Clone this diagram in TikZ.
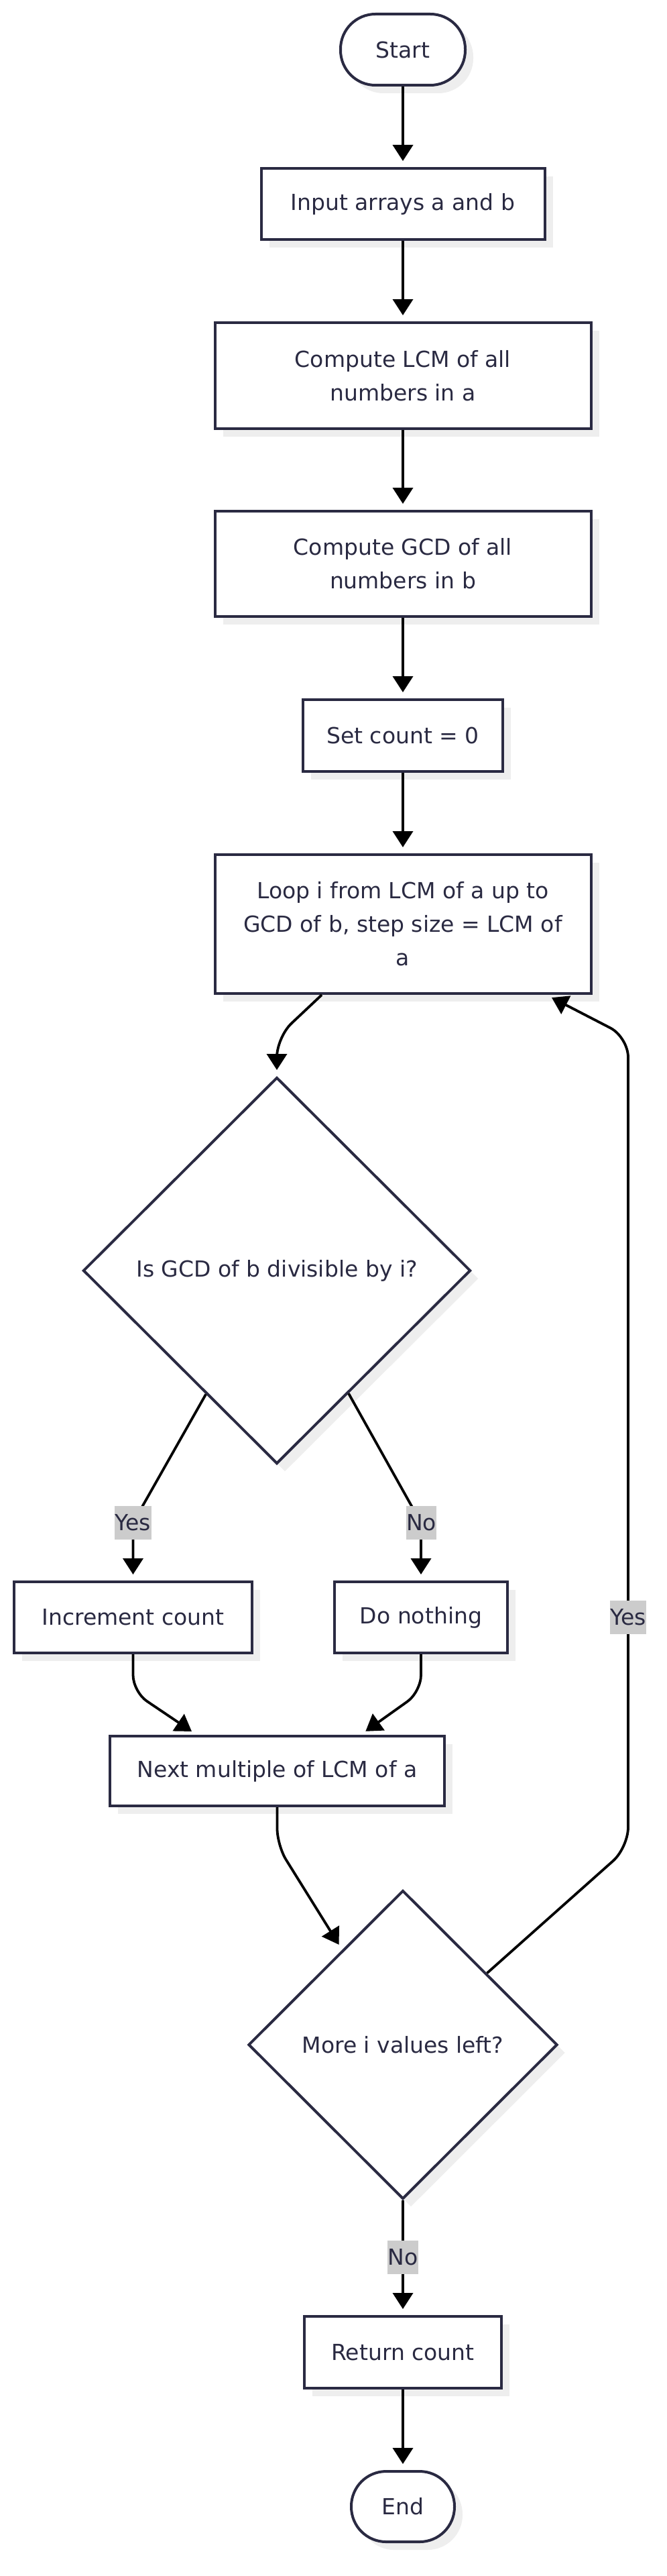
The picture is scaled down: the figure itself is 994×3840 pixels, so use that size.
\documentclass[tikz,border=0pt]{standalone}
\usepackage{fontspec}
\setmainfont{DejaVu Sans}
\usetikzlibrary{shapes.geometric,arrows.meta,shadows,calc}
\definecolor{ink}{RGB}{42,42,66}
\definecolor{lblbg}{RGB}{204,204,204}
\definecolor{shd}{RGB}{238,238,238}
\begin{document}
\begin{tikzpicture}[x=1pt,y=-1pt,
  base/.style={draw=ink, line width=4pt, fill=white, text=ink, inner sep=0pt, align=center,
    font=\fontsize{33}{50}\selectfont,
    drop shadow={shadow xshift=12pt, shadow yshift=-12pt, fill=shd, opacity=1}},
  proc/.style={base, rectangle},
  term/.style={base, rectangle, rounded corners=52pt},
  dec/.style={base, diamond, aspect=1},
  arr/.style={draw=black, line width=3.8pt, -{Triangle[width=30pt,length=24pt]}, shorten >=9pt},
  lbl/.style={fill=lblbg, text=ink, inner xsep=0.5pt, inner ysep=0pt, minimum height=50pt, font=\fontsize{33}{50}\selectfont}
]
\useasboundingbox (0,0) rectangle (994,3840);
\fill[white] (0,0) rectangle (994,3840);

\node[term, minimum width=186, minimum height=106] (start) at (601,74) {Start};
\node[proc, minimum width=423, minimum height=106] (input) at (601,304) {Input arrays a and b};
\node[proc, minimum width=561, minimum height=158] (lcm) at (601,560) {Compute LCM of all\\numbers in a};
\node[proc, minimum width=561, minimum height=157] (gcd) at (601,840.5) {Compute GCD of all\\numbers in b};
\node[proc, minimum width=298, minimum height=107] (setc) at (601,1096.5) {Set count = 0};
\node[proc, minimum width=561, minimum height=207] (loop) at (601,1377.5) {Loop i from LCM of a up to\\GCD of b, step size = LCM of\\a};
\node[dec, minimum width=578, minimum height=576] (d1) at (413,1894) {Is GCD of b divisible by i?};
\node[proc, minimum width=355, minimum height=106] (inc) at (198.5,2411) {Increment count};
\node[proc, minimum width=258, minimum height=106] (dn) at (628,2411) {Do nothing};
\node[proc, minimum width=499, minimum height=104] (next) at (413.5,2640) {Next multiple of LCM of a};
\node[dec, minimum width=461, minimum height=460] (d2) at (601,3048) {More i values left?};
\node[proc, minimum width=294, minimum height=107] (ret) at (601,3506.5) {Return count};
\node[term, minimum width=154, minimum height=105] (end) at (601,3736.5) {End};

\draw[arr] (start) -- (input);
\draw[arr] (input) -- (lcm);
\draw[arr] (lcm) -- (gcd);
\draw[arr] (gcd) -- (setc);
\draw[arr] (setc) -- (loop);
\draw[arr, rounded corners=30pt] ([xshift=-121pt]loop.south) -- (413,1546) -- (d1.north);
\draw[arr, rounded corners=15pt] ($(d1.west)!0.636!(d1.south)$) -- (198.5,2270) -- (inc.north);
\draw[arr, rounded corners=15pt] ($(d1.south)!0.368!(d1.east)$) -- (628,2270) -- (dn.north);
\draw[arr, rounded corners=25pt] (inc.south) -- (198.5,2522) -- ([xshift=-120pt]next.north);
\draw[arr, rounded corners=25pt] (dn.south) -- (628,2522) -- ([xshift=124.5pt]next.north);
\draw[arr, rounded corners=25pt] (next.south) -- (413.5,2751) -- ($(d2.west)!0.61!(d2.north)$);
\draw[arr, rounded corners=30pt] ($(d2.north)!0.54!(d2.east)$) -- (937,2754) -- (937,1546) -- ([xshift=214pt]loop.south);
\draw[arr] (d2.south) -- (ret.north);
\draw[arr] (ret) -- (end);

\node[lbl] (ly1) at (198.5,2270) {Yes};
\node[lbl] (ln1) at (628.5,2270) {No};
\node[lbl] (ly2) at (937,2410.5) {Yes};
\node[lbl] (ln2) at (601,3365) {No};
\end{tikzpicture}
\end{document}
